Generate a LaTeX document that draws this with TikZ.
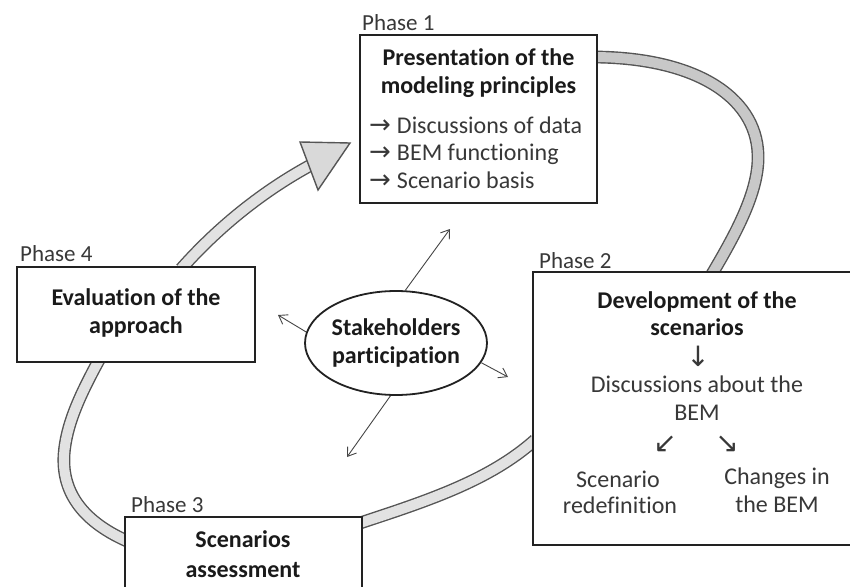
\documentclass[tikz,border=0pt]{standalone}
\usepackage{fontspec}
\setmainfont{Carlito}[Ligatures=NoCommon]
\newfontfamily\arr{DejaVu Sans}
\usetikzlibrary{shapes.geometric,calc,arrows.meta,backgrounds}
\definecolor{edgecol}{HTML}{555555}
\definecolor{bandA}{HTML}{C8C8C8}
\definecolor{bandB}{HTML}{E2E2E2}
\definecolor{headfill}{HTML}{D9D9D9}
\definecolor{boxline}{HTML}{222222}
\definecolor{titlecol}{HTML}{1A1A1A}
\definecolor{bodycol}{HTML}{383838}
\definecolor{ptrcol}{HTML}{454545}
\begin{document}
\begin{tikzpicture}[x=1pt,y=-1pt,
  box/.style={draw=boxline, line width=2pt, fill=white, rectangle, inner sep=0pt},
  title/.style={font=\bfseries\fontsize{24}{29}\selectfont, text=titlecol, anchor=base, inner sep=0pt},
  body/.style={font=\fontsize{24}{29}\selectfont, text=bodycol, anchor=base, inner sep=0pt},
  phase/.style={font=\fontsize{23}{28}\selectfont, text=bodycol, anchor=base west, inner sep=0pt},
  band/.style={draw=edgecol, line width=1.4pt, double=#1, double distance=10pt},
  ptr/.style={draw=ptrcol, line width=0.9pt, -{Straight Barb[length=8pt,width=11pt]}}
]
\useasboundingbox (0,0) rectangle (850,586);

% boxes
\node[box, minimum width=237pt, minimum height=168pt] (p1) at (478.5,119) {};
\node[box, minimum width=347pt, minimum height=273pt] (p2) at (706.5,408.5) {};
\node[box, minimum width=238pt, minimum height=95pt] (p4) at (136,314.5) {};
\node[box, minimum width=237pt, minimum height=103pt] (p3) at (243.5,568.5) {};
\node[ellipse, draw=boxline, line width=1.8pt, fill=white, minimum width=171pt, minimum height=104pt, inner sep=0pt,
      align=center, font=\bfseries\fontsize{24}{28}\selectfont, text=titlecol] (ell) at (396,343) {Stakeholders\\participation};

% phase labels
\node[phase] (ph1) at (362,31) {Phase 1};
\node[phase] (ph2) at (539,268) {Phase 2};
\node[phase] (ph4) at (20,261) {Phase 4};
\node[phase] (ph3) at (131,512) {Phase 3};

% phase 1 text
\node[title] (t1a) at (478.5,65) {Presentation of the};
\node[title] (t1b) at (478.5,93) {modeling principles};
\node[body, anchor=base west] (l1) at (369,133) {{\arr\fontsize{26}{29}\selectfont →}\hspace{6pt}Discussions of data};
\node[body, anchor=base west] (l2) at (369,160.5) {{\arr\fontsize{26}{29}\selectfont →}\hspace{6pt}BEM functioning};
\node[body, anchor=base west] (l3) at (369,188) {{\arr\fontsize{26}{29}\selectfont →}\hspace{6pt}Scenario basis};

% phase 2 text
\node[title] (t2a) at (697,308) {Development of the};
\node[title] (t2b) at (697,335) {scenarios};
\node[body] (a1) at (698,366) {\arr\fontsize{28}{29}\selectfont ↓};
\node[body] (t2c) at (697,392) {Discussions about the};
\node[body] (t2d) at (697,420) {BEM};
\node[body] (a2) at (665,452) {\arr\fontsize{28}{29}\selectfont ↙};
\node[body] (a3) at (727,452) {\arr\fontsize{28}{29}\selectfont ↘};
\node[body] (t2e) at (618,487) {Scenario};
\node[body] (t2f) at (620,513) {redefinition};
\node[body] (t2g) at (777,484) {Changes in};
\node[body] (t2h) at (777,512) {the BEM};

% phase 4 text
\node[title] (t4a) at (136,305) {Evaluation of the};
\node[title] (t4b) at (136,333) {approach};

% phase 3 text
\node[title] (t3a) at (243,547) {Scenarios};
\node[title] (t3b) at (243,577) {assessment};

% stakeholder arrows
\coordinate (e1) at (450,229);
\coordinate (e2) at (278,315);
\coordinate (e3) at (508,377);
\coordinate (e4) at (347,457);
\draw[ptr] (ell.80) -- (e1);
\draw[ptr] (ell.173) -- (e2);
\draw[ptr] (ell.347) -- (e3);
\draw[ptr] (ell.264) -- (e4);

% cycle band
\coordinate (hb) at (311,165);
\coordinate (tip) at (350,143);
\begin{scope}[on background layer]
\draw[band=bandA] ($(p1.north east)+(-3,23)$) .. controls (700,58) and (760,100) .. (758,160)
   .. controls (757,195) and (735,235) .. ($(p2.north west)+(180,3)$);
\draw[band=bandB] ($(p2.north west)+(3,169)$) .. controls (490,480) and (430,500) .. ($(p3.north east)+(-3,7)$);
\draw[band=bandB] ($(p3.north west)+(3,25)$) .. controls (80,520) and (62,490) .. (64,455)
   .. controls (66,425) and (80,395) .. ($(p4.south west)+(83,-3)$);
\draw[band=bandB] ($(p4.north west)+(165,3)$) .. controls (220,225) and (265,190) .. (hb);
\draw[draw=edgecol, line width=1.4pt, fill=headfill, line join=miter] (300,142) -- (tip) -- (318,190) -- cycle;
\end{scope}
\end{tikzpicture}
\end{document}
